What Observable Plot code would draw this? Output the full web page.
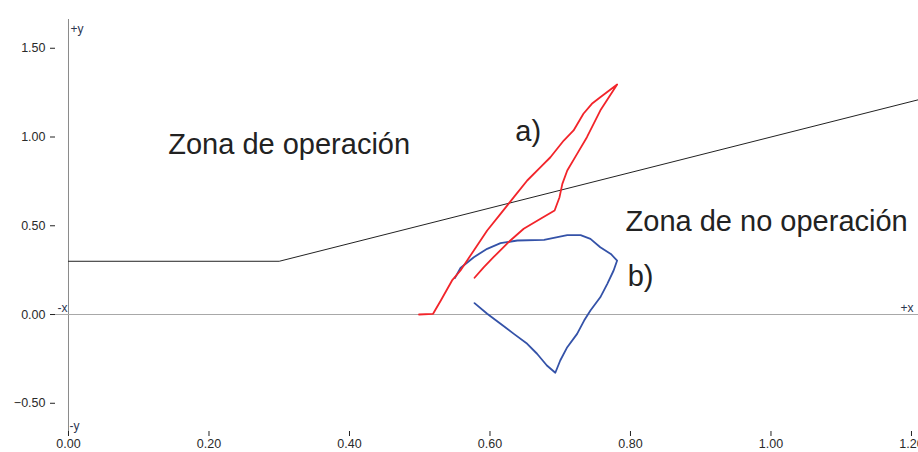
<!DOCTYPE html>
<html>
<head>
<meta charset="utf-8">
<script src="https://cdn.jsdelivr.net/npm/d3@7"></script>
<script src="https://cdn.jsdelivr.net/npm/@observablehq/plot@0.6"></script>
<style>
  html, body { margin: 0; padding: 0; background: #fff; }
  #chart svg { display: block; background: linear-gradient(to right, #fff 10px, #f0f0f0 10px); }
</style>
</head>
<body>
<div id="chart"></div>
<script>
// Characteristic line (restraint): y = 0.3 up to x = 0.3, then y = x
const charX = [0.00, 0.30, 1.21];
const charY = [0.30, 0.30, 1.21];

// Curve a) (red)
const redX = [0.499, 0.519, 0.530, 0.546, 0.558, 0.577, 0.596, 0.615, 0.634, 0.653, 0.672, 0.686, 0.705, 0.719, 0.733, 0.745, 0.757, 0.781,
              0.757, 0.738, 0.724, 0.710, 0.703, 0.699, 0.692, 0.672, 0.648, 0.629, 0.605, 0.591, 0.578];
const redY = [0.000, 0.004, 0.079, 0.192, 0.248, 0.361, 0.473, 0.567, 0.661, 0.755, 0.830, 0.886, 0.980, 1.037, 1.131, 1.187, 1.224, 1.296,
              1.149, 0.999, 0.905, 0.811, 0.736, 0.661, 0.586, 0.539, 0.483, 0.417, 0.323, 0.266, 0.207];

// Curve b) (blue)
const blueX = [0.550, 0.558, 0.577, 0.596, 0.615, 0.639, 0.677, 0.696, 0.710, 0.729, 0.743, 0.757, 0.772, 0.781,
               0.776, 0.767, 0.757, 0.743, 0.734, 0.724, 0.710, 0.700, 0.693,
               0.681, 0.667, 0.653, 0.634, 0.615, 0.596, 0.578];
const blueY = [0.205, 0.262, 0.323, 0.370, 0.402, 0.417, 0.421, 0.436, 0.447, 0.447, 0.426, 0.379, 0.341, 0.304,
               0.248, 0.173, 0.097, 0.023, -0.034, -0.109, -0.184, -0.259, -0.328,
               -0.287, -0.221, -0.165, -0.109, -0.052, 0.004, 0.064];

const xTicks = [0, 0.2, 0.4, 0.6, 0.8, 1.0, 1.2];
const yTicks = [-0.5, 0, 0.5, 1.0, 1.5];

const zoneLabels = [
  {x: 0.142, y: 0.907, text: "Zona de operación"},
  {x: 0.636, y: 0.975, text: "a)"},
  {x: 0.793, y: 0.473, text: "Zona de no operación"},
  {x: 0.796, y: 0.158, text: "b)"}
];

const xDomain = [-0.0185, 1.21];
const yDomain = [-0.659, 1.662];

const toRows = (xs, ys) => xs.map((x, i) => ({x, y: ys[i]}));
const charLine = toRows(charX, charY);
const red = toRows(redX, redY);
const blue = toRows(blueX, blueY);

const font = "'Liberation Sans', Arial, sans-serif";

const chart = Plot.plot({
  width: 918,
  height: 452,
  marginLeft: 55,
  marginRight: 0,
  marginTop: 19,
  marginBottom: 21,
  style: {fontFamily: font, fontSize: "12px", color: "#333", background: "transparent"},
  x: {domain: xDomain, ticks: xTicks, tickFormat: d3.format(".2f"), label: null, tickSize: 5, tickPadding: 3},
  y: {domain: yDomain, ticks: yTicks, tickFormat: d3.format(".2f"), label: null, tickSize: 5, tickPadding: 5},
  marks: [
    Plot.frame({fill: "white", stroke: "none"}),
    Plot.ruleX([0], {stroke: "#8a8a8a", strokeWidth: 1}),
    Plot.ruleY([0], {stroke: "#a8a8a8", strokeWidth: 1.2}),
    Plot.axisX({ticks: xTicks, tickFormat: d3.format(".2f"), tickSize: 5, tickPadding: 3, stroke: "#222", fill: "#2a2a2a", fontSize: 12.5}),
    Plot.axisY({ticks: yTicks, tickFormat: d3.format(".2f"), tickSize: 5, tickPadding: 5, stroke: "#222", fill: "#2a2a2a", fontSize: 12.5}),
    Plot.line(charLine, {x: "x", y: "y", stroke: "#222", strokeWidth: 1}),
    Plot.line(blue, {x: "x", y: "y", stroke: "#3452a8", strokeWidth: 1.8, strokeLinejoin: "round"}),
    Plot.line(red, {x: "x", y: "y", stroke: "#f2242a", strokeWidth: 1.8, strokeLinejoin: "round"}),
    Plot.text([{x: 0, y: yDomain[1], t: "+y"}], {x: "x", y: "y", text: "t", textAnchor: "start", lineAnchor: "top", dx: 2, dy: 5, fill: "#2b3550", fontSize: 12}),
    Plot.text([{x: 0, y: yDomain[0], t: "-y"}], {x: "x", y: "y", text: "t", textAnchor: "start", lineAnchor: "bottom", dx: 1, dy: -2, fill: "#2b3550", fontSize: 12}),
    Plot.text([{x: 0, y: 0, t: "-x"}], {x: "x", y: "y", text: "t", textAnchor: "end", lineAnchor: "bottom", dx: -1, dy: -3, fill: "#2b3550", fontSize: 12}),
    Plot.text([{x: xDomain[1], y: 0, t: "+x"}], {x: "x", y: "y", text: "t", textAnchor: "end", lineAnchor: "bottom", dx: -5, dy: -3, fill: "#2b3550", fontSize: 12}),
    Plot.text(zoneLabels, {x: "x", y: "y", text: "text", textAnchor: "start", lineAnchor: "bottom", fontSize: 29, fill: "#222"})
  ]
});

document.getElementById("chart").appendChild(chart);
</script>
</body>
</html>
